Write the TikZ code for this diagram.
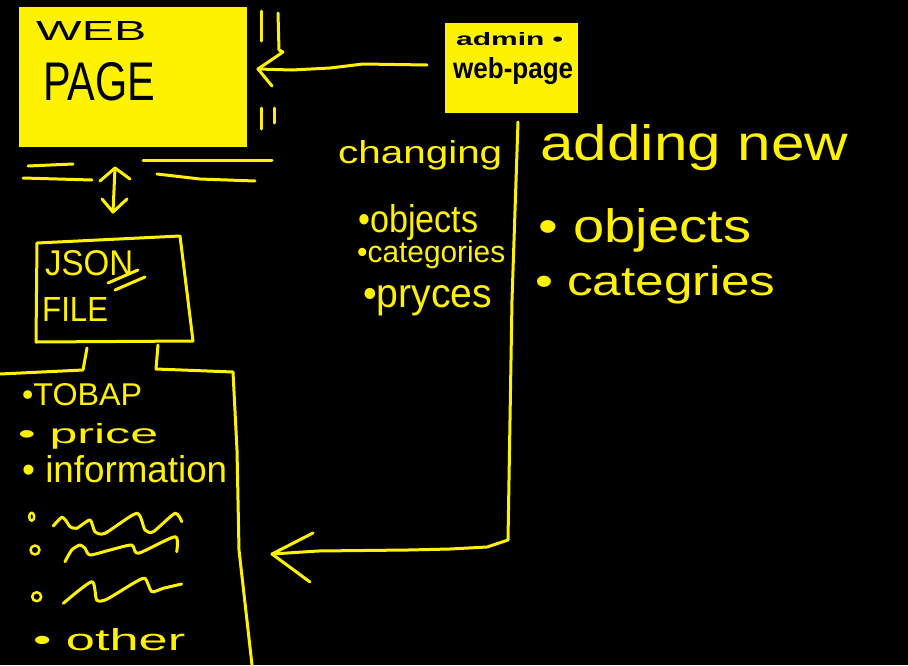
\documentclass[tikz,border=0pt]{standalone}
\usepackage{fontspec}
\setmainfont{Liberation Sans}
\usepackage{graphicx}
\definecolor{yel}{RGB}{255,242,0}
\newcommand\hw[3]{\resizebox{#1pt}{#2pt}{#3}}
\begin{document}
\begin{tikzpicture}[x=1pt,y=-1pt, line cap=round, line join=round,
  pen/.style={draw=yel, line width=3pt},
  txt/.style={inner sep=0pt, anchor=base west, text=yel},
  dtxt/.style={inner sep=0pt, anchor=base west, text=black},
  card/.style={fill=yel, inner sep=0pt, anchor=north west}]
\fill[black] (0,0) rectangle (908,665);
\useasboundingbox (0,0) rectangle (908,665);
% boxes
\node[card, minimum width=228pt, minimum height=140pt] (web) at (19,7) {};
\node[dtxt] (webt) at (36,40) {\hw{110}{19}{WEB}};
\node[dtxt] (paget) at (43,100) {\hw{112}{38}{PAGE}};
\node[card, minimum width=133pt, minimum height=90pt] (admin) at (445,23) {};
\node[dtxt] (admint) at (456,45) {\hw{107}{13}{\bfseries admin •}};
\node[dtxt] (webpaget) at (453,78) {\hw{120}{21}{\bfseries web-page}};
% texts
\node[txt] (chg) at (338,163) {\hw{164}{23}{changing}};
\node[txt] (c1) at (358,232) {\hw{120}{28}{•objects}};
\node[txt] (c2) at (357,262) {\hw{148}{22}{•categories}};
\node[txt] (c3) at (363,307) {\hw{129}{22}{•pryces}};
\node[txt] (add) at (540,160) {\hw{308}{36}{adding new}};
\node[txt] (a1) at (538,242) {\hw{213}{34}{• objects}};
\node[txt] (a2) at (535,295) {\hw{240}{30}{• categries}};
\node[txt] (json) at (45,275) {\hw{88}{25}{JSON}};
\node[txt] (file) at (42,321) {\hw{66}{24}{FILE}};
\node[txt] (l1) at (22,405) {\hw{120}{22}{•TOBAP}};
\node[txt] (l2) at (18,443) {\hw{140}{20}{• price}};
\node[txt] (l3) at (22,482) {\hw{205}{27}{• information}};
\node[txt] (l4) at (33,650) {\hw{152}{22}{• other}};
% arrow admin -> web page
\coordinate (a0) at (427,65);
\coordinate (tip1) at (258,69);
\draw[pen] (a0) -- (363,64) -- (330,68) -- (292,70) -- (tip1);
\draw[pen] (278,13) -- (279,50) -- (283,52) -- (tip1) -- (272,86);
\draw[pen] (261,11) -- (261,41);
\draw[pen] (261,108) -- (261,129);
\draw[pen] (274,108) -- (274,123);
% lines below web page
\draw[pen] (28,166) -- (73,164);
\draw[pen] (23,178) -- (92,180);
\draw[pen] (143,160) -- (272,160);
\draw[pen] (157,174) -- (200,179) -- (255,181);
% double arrow
\coordinate (da1) at (115,168);
\coordinate (da2) at (113,212);
\draw[pen] (da1) -- (da2);
\draw[pen] (100,181) -- (da1) -- (130,179);
\draw[pen] (102,199) -- (da2) -- (127,199);
% JSON box
\draw[pen] (37,243) -- (180,236) -- (193,341) -- (36,342) -- cycle;
\draw[pen] (108,283) -- (138,270);
\draw[pen] (115,290) -- (145,277);
% document outline
\draw[pen] (87,348) -- (83,370) -- (0,374);
\draw[pen] (158,345) -- (156,369) -- (233,372) -- (237,450) -- (239,550) -- (252,665);
% big connector
\coordinate (b0) at (518,122);
\coordinate (tip2) at (272,554);
\draw[pen] (b0) -- (512,300) -- (508,540) -- (487,547) -- (450,549) -- (408,550) -- (318,551) -- (tip2);
\draw[pen] (313,533) -- (tip2) -- (310,582);
% squiggles
\draw[pen, line width=2.5pt] (31.7,516.7) ellipse (2.5 and 4);
\draw[pen, line width=2.5pt] (35,550) circle (4.5);
\draw[pen, line width=2.5pt] (36.7,596.7) circle (4.5);
\draw[pen] plot[smooth, tension=0.4] coordinates {(53.3,526) (61.7,517.3) (66.7,521.7) (70,526.7) (76.7,528.3) (90,520) (95,531.7) (105,533.3) (136.7,513.3) (145,530) (153.3,531.7) (175,513.3) (181.7,521.7)};
\draw[pen] plot[smooth, tension=0.4] coordinates {(65,561.7) (71.7,550) (80,545) (85,548.3) (90,555) (110,550) (131.7,545) (138.3,553.3) (175,536.7) (176.7,551.7)};
\draw[pen] plot[smooth, tension=0.4] coordinates {(63.3,603.3) (91.7,581.7) (96.7,600) (106.7,599.3) (133.3,583.3) (145,578.3) (151.7,591.7) (163.3,588.3) (181.7,584)};
\end{tikzpicture}
\end{document}
